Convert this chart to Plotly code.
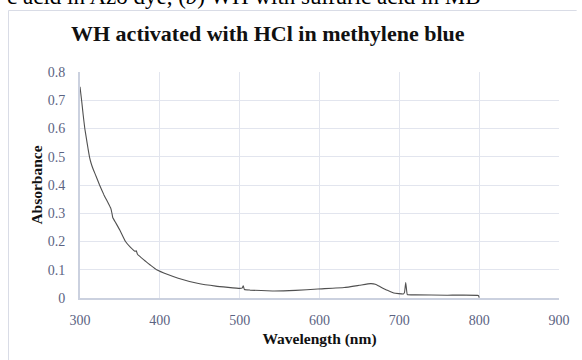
import plotly.graph_objects as go

# UV-Vis absorbance spectrum
wavelength = [300, 302, 304, 306, 308, 310, 312, 314, 317, 320, 324.5, 330, 335, 338.5, 340, 341,
              345, 350, 357, 363, 369, 370.5, 372, 380, 388, 396, 410, 423, 447, 470, 500,
              503, 504.5, 506, 513, 541, 570, 598, 631, 650, 664, 670, 676, 685, 693, 705,
              706.5, 708, 709, 710, 720, 760, 799, 800]
absorbance = [0.748, 0.70, 0.648, 0.60, 0.565, 0.530, 0.498, 0.476, 0.452, 0.432, 0.40, 0.365, 0.338, 0.318, 0.30, 0.285,
              0.265, 0.24, 0.20, 0.18, 0.165, 0.167, 0.155, 0.135, 0.117, 0.10, 0.083, 0.07, 0.052, 0.042, 0.034,
              0.035, 0.043, 0.030, 0.028, 0.025, 0.027, 0.032, 0.037, 0.045, 0.051, 0.049, 0.040, 0.027, 0.018, 0.014,
              0.02, 0.055, 0.03, 0.012, 0.011, 0.010, 0.009, 0.001]

x_ticks = [300, 400, 500, 600, 700, 800, 900]
y_ticks = [0, 0.1, 0.2, 0.3, 0.4, 0.5, 0.6, 0.7, 0.8]

W, H = 582, 360
L, R, T, B = 80, 13, 72, 62
pw, ph = W - L - R, H - T - B

def px(xp):
    return (xp - L) / pw

def py(yp):
    return (H - B - yp) / ph

serif = "Liberation Serif, Times New Roman, serif"
tick_col = "#5b6382"
grid_col = "#e2e5ee"
axis_col = "#cbd1df"

fig = go.Figure()
fig.add_trace(go.Scatter(x=wavelength, y=absorbance, mode="lines",
                         line=dict(color="#505050", width=1.1, shape="spline", smoothing=0.3),
                         showlegend=False))

fig.update_layout(
    width=W, height=H,
    margin=dict(l=L, r=R, t=T, b=B),
    paper_bgcolor="white", plot_bgcolor="white",
    font=dict(family=serif),
    xaxis=dict(range=[300, 900], tickvals=x_ticks, ticktext=[str(v) for v in x_ticks],
               showgrid=True, gridcolor=grid_col, gridwidth=1,
               showline=True, linecolor=axis_col, linewidth=2,
               zeroline=False, ticks="", ticklabelstandoff=8,
               tickfont=dict(family=serif, size=14, color=tick_col),
               title=dict(text="<b>Wavelength (nm)</b>", standoff=6,
                          font=dict(family=serif, size=15.5, color="#111"))),
    yaxis=dict(range=[0, 0.8], tickvals=y_ticks, ticktext=[f"{v:g}" for v in y_ticks],
               showgrid=True, gridcolor=grid_col, gridwidth=1,
               showline=True, linecolor=axis_col, linewidth=2,
               zeroline=False, ticks="", ticklabelstandoff=10,
               tickfont=dict(family=serif, size=14, color=tick_col),
               title=dict(text="<b>Absorbance</b>", standoff=1,
                          font=dict(family=serif, size=15.5, color="#111"))),
)

# chart frame edges
fig.add_shape(type="line", xref="paper", yref="paper",
              x0=px(7), x1=px(W + 5), y0=py(10.5), y1=py(10.5),
              line=dict(color="#d9dce6", width=1))
fig.add_shape(type="line", xref="paper", yref="paper",
              x0=px(7), x1=px(7), y0=py(10.5), y1=py(H + 5),
              line=dict(color="#d9dce6", width=1))

# chart title
fig.add_annotation(text="<b>WH activated with HCl in methylene blue</b>",
                   xref="paper", yref="paper", x=px(272), y=py(33),
                   xanchor="center", yanchor="middle", showarrow=False,
                   font=dict(family=serif, size=22, color="#111"))

# caption line above the frame
fig.add_annotation(text="c acid in Azo dye, (<i>b</i>) WH with sulfuric acid in MB",
                   xref="paper", yref="paper", x=px(3), y=py(11),
                   xanchor="left", yanchor="bottom", showarrow=False,
                   font=dict(family=serif, size=23, color="#000"))

fig.write_html("out.html")
